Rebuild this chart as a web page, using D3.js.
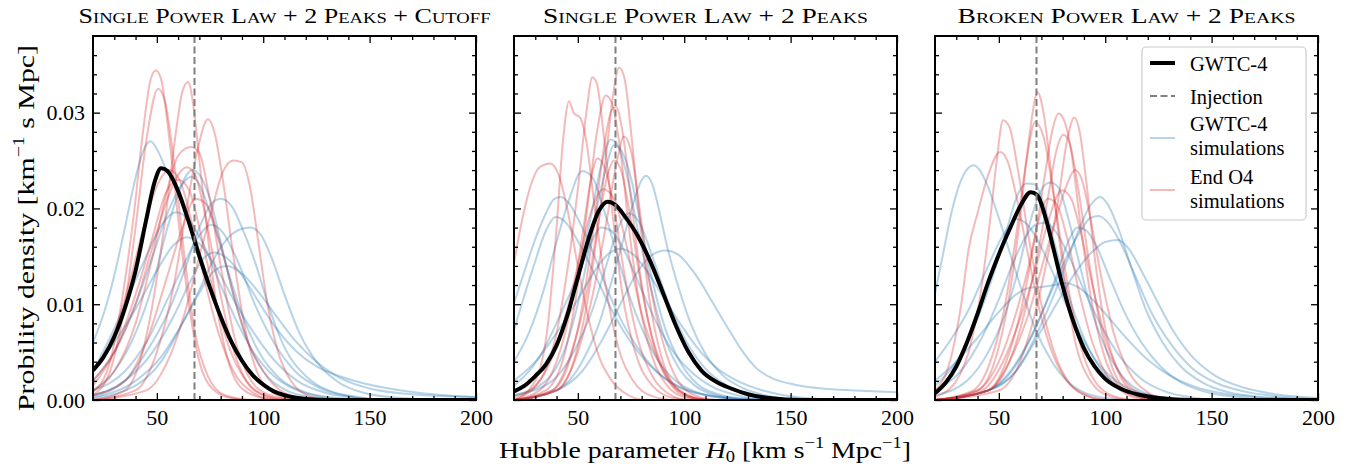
<!DOCTYPE html>
<html>
<head>
<meta charset="utf-8">
<script src="https://cdn.jsdelivr.net/npm/d3@7"></script>
<style>
body { margin: 0; background: #fff; }
text { font-family: "Liberation Serif", "DejaVu Serif", serif; fill: #000; }
</style>
</head>
<body>
<svg id="chart" width="1346" height="466"></svg>
<script>
// ---------- data ----------
var titles = ["Single Power Law + 2 Peaks + Cutoff", "Single Power Law + 2 Peaks", "Broken Power Law + 2 Peaks"];
var titleWidths = [412, 325, 338];
var injection = 67.7;
var xMajor = [50, 100, 150, 200];
var xMinor = [30, 40, 60, 70, 80, 90, 110, 120, 130, 140, 160, 170, 180, 190];
var yMajor = [0, 0.01, 0.02, 0.03];
var yMinor = [0.002, 0.004, 0.006, 0.008, 0.012, 0.014, 0.016, 0.018, 0.022, 0.024, 0.026, 0.028, 0.032, 0.034, 0.036];
var legendLabels = [["GWTC-4"], ["Injection"], ["GWTC-4", "simulations"], ["End O4", "simulations"]];

// panel 1
var black1 = [[20,0.0031],[25,0.0045],[30,0.0066],[35,0.0096],[40,0.0135],[45,0.0188],[49,0.0228],[52,0.0242],[55,0.0239],[60,0.0218],[65,0.0186],[70,0.0150],[75,0.0117],[80,0.0087],[85,0.0061],[90,0.0041],[95,0.0026],[100,0.0016],[105,0.0009],[110,0.0005],[120,0.0001],[130,0],[200,0]];
var red1 = [
 [[20,0.0008],[28,0.004],[34,0.011],[39,0.019],[43.5,0.028],[47,0.0334],[49.5,0.0344],[52,0.0335],[56,0.027],[60,0.019],[65,0.010],[70,0.004],[76,0.0012],[85,0.0002],[95,0],[200,0]],
 [[20,0.0005],[28,0.003],[35,0.010],[40,0.018],[45,0.027],[50.6,0.0325],[54,0.031],[58,0.025],[63,0.015],[68,0.007],[74,0.0025],[82,0.0005],[95,0],[200,0]],
 [[20,0],[35,0.001],[42,0.004],[48,0.010],[54,0.019],[59,0.028],[62,0.0322],[64.7,0.0332],[67,0.031],[70,0.025],[74,0.017],[78,0.010],[83,0.0045],[90,0.0012],[100,0.0002],[110,0],[200,0]],
 [[20,0],[40,0.001],[50,0.005],[58,0.012],[64,0.020],[69,0.026],[74,0.0293],[77,0.028],[81,0.023],[86,0.015],[91,0.008],[97,0.003],[105,0.0007],[115,0],[200,0]],
 [[20,0.001],[30,0.003],[40,0.008],[48,0.015],[55,0.022],[60,0.0255],[66,0.0264],[70,0.0258],[74,0.022],[80,0.014],[86,0.007],[93,0.0025],[102,0.0006],[115,0],[200,0]],
 [[20,0],[45,0.001],[55,0.004],[63,0.009],[70,0.015],[76,0.020],[81,0.0238],[86,0.025],[90,0.0248],[94,0.022],[98,0.016],[102,0.010],[107,0.005],[113,0.002],[122,0.0004],[135,0],[200,0]],
 [[20,0.002],[30,0.005],[40,0.010],[48,0.016],[55,0.021],[60,0.0235],[64,0.0243],[68,0.0235],[73,0.019],[79,0.012],[85,0.006],[92,0.002],[100,0.0005],[110,0],[200,0]],
 [[20,0.003],[30,0.007],[38,0.013],[45,0.019],[51,0.0228],[56,0.024],[61,0.0228],[67,0.018],[73,0.012],[79,0.007],[86,0.003],[95,0.0008],[105,0],[200,0]],
 [[20,0.0015],[30,0.005],[40,0.011],[48,0.017],[54,0.0215],[60,0.023],[65,0.022],[71,0.017],[77,0.011],[84,0.0055],[92,0.002],[102,0.0004],[115,0],[200,0]],
 [[20,0.0005],[35,0.002],[45,0.006],[55,0.013],[62,0.018],[68,0.021],[73,0.0205],[79,0.017],[86,0.011],[93,0.006],[100,0.003],[108,0.001],[118,0.0002],[130,0],[200,0]]
];
var blue1 = [
 [[20,0.006],[25,0.009],[30,0.013],[35,0.018],[40,0.0232],[44,0.0262],[47,0.027],[50,0.0262],[55,0.0238],[60,0.0222],[65,0.019],[70,0.0155],[76,0.011],[82,0.0075],[90,0.0042],[98,0.002],[108,0.0007],[120,0.0002],[135,0],[200,0]],
 [[20,0.001],[30,0.003],[40,0.007],[48,0.012],[55,0.018],[60,0.0215],[64,0.0235],[67,0.024],[70,0.0235],[75,0.021],[80,0.0165],[86,0.011],[92,0.0065],[100,0.003],[110,0.0011],[122,0.0003],[140,0],[200,0]],
 [[20,0.002],[30,0.005],[40,0.010],[48,0.015],[55,0.0195],[61,0.0222],[66,0.0233],[70,0.0225],[75,0.0195],[82,0.0145],[90,0.009],[98,0.005],[108,0.0022],[120,0.0008],[135,0.0002],[150,0],[200,0]],
 [[20,0.0005],[35,0.002],[45,0.005],[55,0.009],[63,0.0135],[70,0.018],[75,0.0203],[80,0.021],[85,0.0203],[90,0.018],[96,0.0145],[103,0.0095],[110,0.0055],[120,0.0025],[132,0.0009],[145,0.0003],[160,0],[200,0]],
 [[20,0.003],[28,0.0065],[36,0.0105],[44,0.0145],[52,0.0182],[59,0.0196],[65,0.0188],[72,0.0162],[80,0.012],[88,0.008],[96,0.0048],[105,0.0025],[115,0.0011],[128,0.0003],[145,0],[200,0]],
 [[20,0.0002],[40,0.0015],[52,0.004],[62,0.008],[70,0.0115],[77,0.0148],[83,0.0168],[89,0.0178],[94,0.018],[99,0.0172],[104,0.0148],[110,0.011],[117,0.007],[125,0.004],[135,0.0019],[148,0.0007],[165,0.0002],[185,0],[200,0]],
 [[20,0.001],[35,0.003],[45,0.006],[55,0.0105],[63,0.0143],[70,0.0172],[75.6,0.0183],[81,0.0175],[88,0.0145],[96,0.010],[105,0.006],[115,0.003],[127,0.0012],[140,0.0004],[155,0],[200,0]],
 [[20,0.003],[30,0.006],[40,0.0095],[50,0.0135],[58,0.0162],[64,0.017],[70,0.0163],[78,0.0138],[86,0.0105],[95,0.0072],[105,0.0042],[116,0.002],[130,0.0007],[145,0.0002],[160,0],[200,0]],
 [[20,0.0005],[35,0.002],[48,0.005],[58,0.0088],[66,0.0125],[72,0.0148],[77,0.0154],[83,0.0148],[90,0.013],[98,0.0102],[106,0.0075],[115,0.0052],[125,0.0035],[137,0.0024],[150,0.0016],[165,0.001],[180,0.0006],[200,0.0003]],
 [[20,0.0003],[40,0.002],[52,0.0045],[62,0.008],[70,0.0112],[77,0.0135],[83,0.014],[90,0.0132],[98,0.0112],[106,0.0088],[115,0.0062],[125,0.004],[137,0.0022],[150,0.0012],[170,0.0006],[200,0.0003]]
];

// panel 2
var black2 = [[20,0.0009],[25,0.0015],[30,0.0025],[35,0.0037],[40,0.0057],[45,0.0088],[50,0.0128],[55,0.0168],[60,0.0198],[64,0.0207],[68,0.0203],[72,0.0192],[78,0.0172],[84,0.0145],[90,0.0112],[96,0.0078],[102,0.005],[108,0.0031],[115,0.0019],[122,0.0012],[130,0.0006],[140,0.0002],[155,0],[200,0]];
var red2 = [
 [[20,0],[40,0.001],[48,0.004],[55,0.011],[60,0.019],[64,0.027],[67,0.0325],[69.4,0.0347],[72,0.0335],[75,0.028],[79,0.019],[84,0.010],[90,0.004],[98,0.001],[110,0],[200,0]],
 [[20,0],[32,0.002],[40,0.007],[46,0.015],[50,0.022],[54,0.030],[56.8,0.0337],[59,0.033],[62,0.028],[66,0.020],[71,0.011],[77,0.005],[85,0.0015],[95,0.0002],[105,0],[200,0]],
 [[20,0],[30,0.002],[36,0.008],[40,0.018],[43,0.027],[45.9,0.0312],[48,0.030],[51.3,0.0294],[54,0.027],[58,0.020],[63,0.012],[69,0.0055],[76,0.002],[85,0.0004],[95,0],[200,0]],
 [[20,0],[35,0.001],[44,0.005],[50,0.012],[55,0.021],[59,0.028],[63.1,0.0318],[66,0.031],[70,0.026],[74,0.018],[79,0.010],[85,0.0045],[92,0.0015],[100,0.0003],[110,0],[200,0]],
 [[20,0],[38,0.001],[46,0.004],[53,0.011],[58,0.019],[62,0.026],[66,0.0303],[68,0.0306],[71,0.028],[75,0.021],[80,0.012],[86,0.0055],[93,0.0018],[102,0.0003],[115,0],[200,0]],
 [[20,0],[40,0.001],[50,0.005],[57,0.011],[63,0.018],[68,0.0245],[71.7,0.0275],[75,0.026],[79,0.020],[84,0.012],[90,0.006],[97,0.002],[106,0.0004],[115,0],[200,0]],
 [[20,0.0143],[24,0.019],[28,0.0225],[32,0.0243],[37,0.0247],[41,0.0235],[45,0.020],[50,0.014],[55,0.0085],[60,0.0045],[66,0.002],[73,0.0006],[82,0],[200,0]],
 [[20,0],[32,0.001],[40,0.004],[47,0.010],[52,0.017],[56,0.0228],[59.2,0.0252],[63,0.024],[67,0.020],[72,0.013],[78,0.0065],[85,0.0025],[93,0.0006],[102,0],[200,0]],
 [[20,0],[38,0.001],[47,0.005],[54,0.011],[60,0.019],[64,0.0235],[67,0.025],[70,0.0242],[74,0.020],[79,0.013],[85,0.0065],[92,0.0025],[100,0.0006],[110,0],[200,0]],
 [[20,0.0003],[32,0.002],[42,0.007],[50,0.014],[56,0.0195],[62,0.022],[67,0.021],[73,0.016],[80,0.009],[88,0.004],[96,0.0012],[106,0.0002],[115,0],[200,0]]
];
var blue2 = [
 [[20,0.001],[32,0.003],[42,0.007],[50,0.013],[56,0.019],[61,0.0245],[65.5,0.0272],[69,0.0265],[73,0.0235],[78,0.018],[84,0.012],[90,0.007],[97,0.0035],[105,0.0015],[115,0.0005],[130,0],[200,0]],
 [[20,0.0005],[35,0.002],[45,0.006],[52,0.012],[58,0.019],[63,0.024],[67,0.0266],[70,0.0262],[74,0.024],[79,0.019],[85,0.0125],[91,0.0075],[98,0.004],[106,0.0017],[116,0.0006],[130,0.0001],[145,0],[200,0]],
 [[20,0.004],[27,0.007],[34,0.0115],[40,0.0165],[46,0.021],[52,0.0239],[57,0.0232],[62,0.020],[68,0.0155],[74,0.011],[81,0.007],[88,0.004],[96,0.002],[106,0.0008],[120,0.0002],[135,0],[200,0]],
 [[20,0],[40,0.001],[52,0.004],[60,0.008],[66,0.0125],[71,0.0165],[76,0.0205],[79,0.0225],[82,0.0234],[85,0.0225],[88,0.020],[92,0.016],[97,0.012],[103,0.008],[110,0.0048],[118,0.0026],[128,0.0012],[140,0.0004],[155,0],[200,0]],
 [[20,0.0101],[25,0.0135],[30,0.0168],[35,0.0195],[39,0.021],[42,0.0212],[46,0.0205],[51,0.0185],[57,0.0155],[63,0.012],[70,0.0085],[78,0.0055],[87,0.003],[97,0.0014],[110,0.0005],[125,0.0001],[140,0],[200,0]],
 [[20,0.0073],[25,0.011],[30,0.0145],[35,0.0177],[39.6,0.0191],[44,0.0186],[50,0.0166],[56,0.014],[62,0.0112],[68,0.0085],[75,0.006],[83,0.0038],[92,0.0021],[102,0.001],[115,0.0004],[130,0.0001],[145,0],[200,0]],
 [[20,0],[40,0.001],[52,0.003],[62,0.0065],[70,0.010],[77,0.013],[84,0.015],[91.3,0.0156],[97,0.0152],[103,0.0138],[108,0.0122],[113,0.0103],[120,0.0077],[127,0.0052],[134,0.0033],[142,0.0022],[152,0.0016],[165,0.0012],[180,0.001],[200,0.0008]],
 [[20,0.002],[30,0.004],[40,0.007],[50,0.0105],[58,0.0135],[64,0.0152],[70,0.0158],[76,0.0152],[83,0.0133],[90,0.0108],[98,0.008],[106,0.0055],[115,0.0034],[125,0.002],[137,0.001],[150,0.0004],[165,0.0001],[180,0],[200,0]],
 [[20,0.0015],[32,0.0045],[42,0.009],[50,0.013],[56,0.0163],[61,0.018],[66,0.0176],[72,0.0155],[79,0.012],[86,0.0085],[94,0.0053],[103,0.003],[113,0.0014],[125,0.0005],[140,0],[200,0]],
 [[20,0.0005],[38,0.002],[48,0.005],[57,0.0095],[64,0.0145],[69,0.018],[74,0.0195],[79,0.0185],[85,0.015],[92,0.0105],[100,0.0065],[109,0.0035],[120,0.0015],[133,0.0005],[150,0],[200,0]]
];

// panel 3
var black3 = [[20,0.0007],[25,0.0018],[30,0.0035],[35,0.006],[40,0.009],[45,0.0123],[50,0.0152],[55,0.0178],[60,0.0202],[65,0.0217],[68,0.0214],[72,0.019],[76,0.0155],[80,0.0119],[85,0.0082],[90,0.0054],[95,0.0035],[100,0.0022],[108,0.0011],[115,0.0006],[125,0.0002],[140,0],[200,0]];
var red3 = [
 [[20,0],[40,0.001],[48,0.004],[55,0.011],[60,0.019],[64,0.027],[68.3,0.0321],[71,0.030],[75,0.023],[80,0.014],[86,0.006],[93,0.002],[102,0.0004],[112,0],[200,0]],
 [[20,0],[38,0.001],[46,0.004],[53,0.010],[58,0.017],[63,0.025],[67,0.029],[71,0.0275],[76,0.021],[82,0.0125],[88,0.006],[95,0.002],[104,0.0004],[115,0],[200,0]],
 [[20,0.0003],[30,0.002],[37,0.006],[42,0.012],[46,0.019],[49,0.025],[52,0.0292],[55,0.0285],[59,0.024],[64,0.017],[70,0.010],[76,0.005],[83,0.0018],[92,0.0004],[102,0],[200,0]],
 [[20,0.001],[27,0.004],[32,0.0095],[36,0.016],[40,0.0195],[45,0.0235],[50.6,0.0259],[54,0.025],[58,0.0215],[63,0.016],[69,0.0095],[75,0.005],[82,0.002],[90,0.0006],[100,0],[200,0]],
 [[20,0],[45,0.001],[55,0.005],[62,0.011],[67,0.017],[72,0.024],[75,0.028],[78,0.0299],[81,0.029],[84,0.026],[88,0.019],[93,0.011],[99,0.005],[106,0.0016],[115,0.0003],[125,0],[200,0]],
 [[20,0],[50,0.001],[60,0.004],[67,0.009],[73,0.015],[78,0.021],[82,0.027],[85.5,0.0295],[88,0.028],[91,0.023],[95,0.015],[100,0.0075],[106,0.003],[113,0.0008],[122,0],[200,0]],
 [[20,0],[45,0.001],[55,0.004],[62,0.009],[68,0.015],[73,0.021],[77,0.026],[80.3,0.0277],[83,0.027],[87,0.0225],[92,0.015],[98,0.0075],[104,0.003],[112,0.0008],[122,0],[200,0]],
 [[20,0],[45,0.001],[56,0.0045],[64,0.009],[71,0.0145],[77,0.019],[82,0.0225],[85.8,0.024],[89,0.023],[93,0.019],[98,0.013],[104,0.007],[111,0.003],[120,0.0008],[130,0],[200,0]],
 [[20,0],[42,0.001],[52,0.004],[60,0.0085],[67,0.0135],[73,0.0185],[79.6,0.0219],[84,0.021],[89,0.017],[95,0.011],[101,0.0058],[108,0.0024],[117,0.0006],[127,0],[200,0]],
 [[20,0],[40,0.001],[50,0.004],[58,0.009],[64,0.014],[69,0.019],[73,0.021],[77,0.0205],[82,0.017],[88,0.011],[94,0.006],[101,0.0025],[110,0.0006],[120,0],[200,0]]
];
var blue3 = [
 [[20,0.0111],[24,0.0155],[28,0.0198],[32,0.0228],[36,0.0243],[38,0.0245],[41,0.024],[45,0.0222],[50,0.019],[55,0.0155],[60,0.012],[67,0.0075],[75,0.004],[82,0.002],[90,0.0008],[100,0.0002],[110,0],[200,0]],
 [[20,0.0005],[35,0.002],[45,0.005],[53,0.009],[59,0.0135],[64,0.018],[69,0.0215],[74,0.0227],[78,0.0222],[82,0.0195],[87,0.015],[93,0.0098],[100,0.0055],[108,0.0025],[118,0.0008],[130,0.0002],[145,0],[200,0]],
 [[20,0.0015],[30,0.004],[40,0.0085],[48,0.0135],[54,0.018],[59,0.0215],[63,0.0226],[67,0.0225],[71,0.0205],[76,0.0165],[82,0.0115],[89,0.007],[97,0.0035],[106,0.0015],[118,0.0004],[130,0],[200,0]],
 [[20,0],[45,0.001],[58,0.003],[67,0.0065],[75,0.0105],[82,0.0145],[88,0.018],[93,0.0203],[97.6,0.0212],[101,0.0205],[106,0.018],[112,0.014],[119,0.0095],[127,0.006],[136,0.0034],[146,0.0018],[158,0.0008],[175,0.0003],[200,0]],
 [[20,0],[45,0.001],[57,0.0035],[66,0.007],[74,0.011],[81,0.0145],[88,0.0175],[93,0.019],[96.8,0.0192],[101,0.0186],[107,0.0165],[114,0.013],[122,0.009],[131,0.0058],[141,0.0033],[152,0.0018],[165,0.0009],[180,0.0004],[200,0.0001]],
 [[20,0],[45,0.001],[58,0.003],[68,0.0065],[77,0.010],[86,0.0133],[94,0.0155],[100,0.0165],[106,0.0167],[111,0.0158],[117,0.0135],[124,0.0105],[132,0.0072],[141,0.0045],[152,0.0025],[165,0.0013],[180,0.0006],[200,0.0002]],
 [[20,0.004],[28,0.0065],[36,0.0095],[44,0.0135],[51,0.0168],[55,0.0182],[58.4,0.0189],[62,0.0186],[67,0.0172],[73,0.0145],[80,0.0108],[88,0.007],[96,0.004],[105,0.002],[116,0.0008],[130,0.0002],[145,0],[200,0]],
 [[20,0.001],[32,0.003],[42,0.0065],[50,0.0105],[57,0.0145],[63,0.0172],[68,0.0184],[72,0.0185],[77,0.0175],[83,0.015],[90,0.0115],[98,0.0078],[107,0.0045],[117,0.0022],[128,0.0009],[140,0.0003],[155,0],[200,0]],
 [[20,0.002],[30,0.004],[40,0.0065],[50,0.0092],[58,0.011],[64,0.0117],[70,0.0118],[76,0.012],[82,0.0122],[87,0.0118],[94,0.0105],[102,0.0085],[111,0.0062],[120,0.0042],[130,0.0026],[142,0.0014],[155,0.0007],[170,0.0003],[190,0.0001],[200,0]],
 [[20,0],[45,0.001],[56,0.003],[64,0.006],[71,0.0095],[77,0.013],[82,0.0162],[87,0.018],[91,0.0177],[96,0.016],[102,0.0128],[109,0.0092],[117,0.006],[126,0.0035],[136,0.0018],[148,0.0008],[162,0.0003],[180,0],[200,0]]
];

var blacks = [black1, black2, black3];
var reds = [red1, red2, red3];
var blues = [blue1, blue2, blue3];

// ---------- layout ----------
var svg = d3.select("#chart");
var lefts = [93, 514, 935];
var plotW = 383;
var top_ = 36, bottom = 400;
var blueCol = "#1f77b4", redCol = "#d62728";

var drawPanel = function (i)
{
	var left = lefts[i];
	var xScale = d3.scaleLinear().domain([20, 200]).range([left, left + plotW]);
	var yScale = d3.scaleLinear().domain([0, 0.038]).range([bottom, top_]);

	var line = d3.line()
		.x(function (d) { return xScale(d[0]); })
		.y(function (d) { return yScale(d[1]); })
		.curve(d3.curveMonotoneX);

	svg.append("clipPath").attr("id", "clip" + i)
		.append("rect")
		.attr("x", left).attr("y", top_)
		.attr("width", plotW).attr("height", bottom - top_);

	var g = svg.append("g").attr("clip-path", "url(#clip" + i + ")");

	g.selectAll("path.blue")
		.data(blues[i]).enter().append("path")
		.attr("class", "blue")
		.attr("d", line)
		.attr("fill", "none")
		.attr("stroke", blueCol)
		.attr("stroke-opacity", 0.32)
		.attr("stroke-width", 2);

	g.selectAll("path.red")
		.data(reds[i]).enter().append("path")
		.attr("class", "red")
		.attr("d", line)
		.attr("fill", "none")
		.attr("stroke", redCol)
		.attr("stroke-opacity", 0.32)
		.attr("stroke-width", 2);

	g.append("path")
		.datum(blacks[i])
		.attr("d", line)
		.attr("fill", "none")
		.attr("stroke", "#000")
		.attr("stroke-width", 4)
		.attr("stroke-linejoin", "round");

	g.append("line")
		.attr("x1", xScale(injection)).attr("x2", xScale(injection))
		.attr("y1", top_).attr("y2", bottom)
		.attr("stroke", "#7f7f7f")
		.attr("stroke-width", 2)
		.attr("stroke-dasharray", "7,3.5");

	// ticks, all four sides, pointing inward
	var axes = [
		[d3.axisBottom(xScale).tickValues(xMajor).tickSize(-7).tickPadding(9).tickFormat(d3.format("d")), "translate(0," + bottom + ")"],
		[d3.axisBottom(xScale).tickValues(xMinor).tickSize(-4).tickFormat(""), "translate(0," + bottom + ")"],
		[d3.axisTop(xScale).tickValues(xMajor).tickSize(-7).tickFormat(""), "translate(0," + top_ + ")"],
		[d3.axisTop(xScale).tickValues(xMinor).tickSize(-4).tickFormat(""), "translate(0," + top_ + ")"],
		[d3.axisLeft(yScale).tickValues(yMajor).tickSize(-7).tickPadding(8).tickFormat(i == 0 ? d3.format(".2f") : ""), "translate(" + left + ",0)"],
		[d3.axisLeft(yScale).tickValues(yMinor).tickSize(-4).tickFormat(""), "translate(" + left + ",0)"],
		[d3.axisRight(yScale).tickValues(yMajor).tickSize(-7).tickFormat(""), "translate(" + (left + plotW) + ",0)"],
		[d3.axisRight(yScale).tickValues(yMinor).tickSize(-4).tickFormat(""), "translate(" + (left + plotW) + ",0)"]
	];
	axes.forEach(function (a)
	{
		var ax = svg.append("g").attr("transform", a[1]).call(a[0].tickSizeOuter(0));
		ax.select(".domain").remove();
		ax.selectAll(".tick line").attr("stroke", "#000").attr("stroke-width", 1.3);
		ax.selectAll(".tick text").attr("font-size", 22).attr("font-family", null);
	});

	svg.append("rect")
		.attr("x", left).attr("y", top_)
		.attr("width", plotW).attr("height", bottom - top_)
		.attr("fill", "none")
		.attr("stroke", "#000")
		.attr("stroke-width", 2);

	svg.append("text")
		.attr("x", left + plotW / 2)
		.attr("y", 23)
		.attr("text-anchor", "middle")
		.attr("font-size", 21)
		.style("font-variant", "small-caps")
		.attr("textLength", titleWidths[i])
		.attr("lengthAdjust", "spacingAndGlyphs")
		.text(titles[i]);
}

for (var i = 0; i < 3; i++) drawPanel(i);

// ---------- axis labels ----------
var xl = svg.append("text")
	.attr("x", 705).attr("y", 458)
	.attr("text-anchor", "middle")
	.attr("font-size", 24)
	.attr("textLength", 412)
	.attr("lengthAdjust", "spacingAndGlyphs");
xl.append("tspan").text("Hubble parameter ");
xl.append("tspan").attr("font-style", "italic").text("H");
xl.append("tspan").attr("font-size", 16).attr("dy", 4).text("0");
xl.append("tspan").attr("dy", -4).text(" [km s");
xl.append("tspan").attr("font-size", 16).attr("dy", -10).text("\u22121");
xl.append("tspan").attr("dy", 10).text(" Mpc");
xl.append("tspan").attr("font-size", 16).attr("dy", -10).text("\u22121");
xl.append("tspan").attr("dy", 10).text("]");

var yl = svg.append("text")
	.attr("transform", "translate(34,228) rotate(-90)")
	.attr("text-anchor", "middle")
	.attr("font-size", 24)
	.attr("textLength", 366)
	.attr("lengthAdjust", "spacingAndGlyphs");
yl.append("tspan").text("Probility density [km");
yl.append("tspan").attr("font-size", 16).attr("dy", -10).text("\u22121");
yl.append("tspan").attr("dy", 10).text(" s Mpc]");

// ---------- legend (panel 3) ----------
var lg = svg.append("g");
lg.append("rect")
	.attr("x", 1142).attr("y", 47)
	.attr("width", 164).attr("height", 173)
	.attr("rx", 4)
	.attr("fill", "#fff").attr("fill-opacity", 0.85)
	.attr("stroke", "#cccccc").attr("stroke-width", 1.2);
var legendStyles = [
	{ y: 63, stroke: "#000", width: 4, dash: null, op: 1 },
	{ y: 96, stroke: "#7f7f7f", width: 2, dash: "7,3.5", op: 1 },
	{ y: 138, stroke: blueCol, width: 2, dash: null, op: 0.32 },
	{ y: 190, stroke: redCol, width: 2, dash: null, op: 0.32 }
];
var legendBase = [71, 104, 131, 184];
legendLabels.forEach(function (lab, k)
{
	var s = legendStyles[k];
	lg.append("line")
		.attr("x1", 1150).attr("x2", 1175)
		.attr("y1", s.y).attr("y2", s.y)
		.attr("stroke", s.stroke)
		.attr("stroke-width", s.width)
		.attr("stroke-opacity", s.op)
		.attr("stroke-dasharray", s.dash);
	var t = lg.append("text")
		.attr("x", 1190).attr("y", legendBase[k])
		.attr("font-size", 20.5);
	lab.forEach(function (s, j)
	{
		t.append("tspan")
			.attr("x", 1190)
			.attr("dy", j == 0 ? 0 : 23.5)
			.text(s);
	});
});
</script>
</body>
</html>
